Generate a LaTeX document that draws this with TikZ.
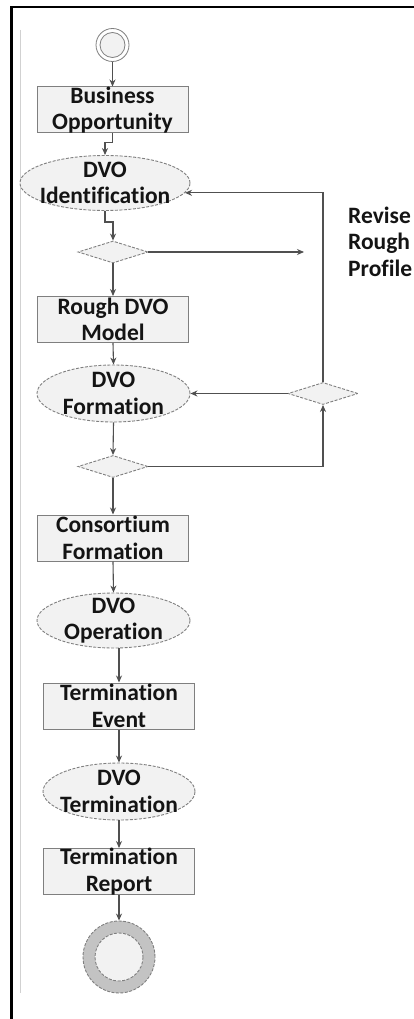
\documentclass[tikz,border=0pt]{standalone}
\usepackage{fontspec}
\setmainfont{Carlito}[Ligatures={NoCommon}]
\usetikzlibrary{shapes.geometric,arrows.meta,calc}
\definecolor{edgec}{HTML}{7F7F7F}
\definecolor{arrc}{HTML}{505050}
\definecolor{fillc}{HTML}{F2F2F2}
\definecolor{ringc}{HTML}{C3C3C3}
\begin{document}
\begin{tikzpicture}[x=1pt,y=-1pt,
  box/.style={rectangle, draw=edgec, line width=1pt, fill=fillc, minimum width=151pt, minimum height=46pt, inner sep=0pt},
  ell/.style={ellipse, draw=edgec, dash pattern=on 3pt off 1.5pt, line width=0.9pt, fill=fillc, inner sep=0pt},
  dia/.style={diamond, draw=edgec, dash pattern=on 3pt off 1.5pt, line width=0.9pt, fill=fillc, minimum width=70pt, minimum height=22pt, inner sep=0pt},
  txt/.style={font=\fontsize{23.5}{26.5}\selectfont\bfseries, align=center, inner sep=0pt, text=black!92},
  conn/.style={draw=arrc, line width=1.1pt, -{Stealth[length=7pt,width=6pt]}}]
\useasboundingbox (0,0) rectangle (414,1019);
\clip (0,0) rectangle (414,1019);
\fill[white] (0,0) rectangle (414,1019);
% frame
\draw[line width=2.5pt, black] (11.5,1030) -- (11.5,7.2) -- (430,7.2);
\draw[black!18, line width=1pt] (20,30) -- (20,993);
% start
\node[circle, draw=edgec, line width=0.8pt, fill=white, minimum size=33pt, inner sep=0pt] (st) at (112.5,45) {};
\draw[edgec, line width=0.8pt, fill=fillc] (st.center) circle (12.5);
% nodes
\node[box, label={[txt]center:Business\\Opportunity}] (bo) at (112.5,110) {};
\node[ell, minimum width=170pt, minimum height=55pt, label={[txt]center:DVO\\Identification}] (di) at (105,183) {};
\node[dia] (d1) at (113,252) {};
\node[box, label={[txt]center:Rough DVO\\Model}] (rm) at (113,319.5) {};
\node[ell, minimum width=153pt, minimum height=57pt, label={[txt]center:DVO\\Formation}] (df) at (113.5,393.5) {};
\node[dia] (d2) at (323,393.5) {};
\node[dia] (d3) at (113,466.5) {};
\node[box, label={[txt]center:Consortium\\Formation}] (cf) at (113,538) {};
\node[ell, minimum width=153pt, minimum height=55pt, label={[txt]center:DVO\\Operation}] (dop) at (113.5,620.5) {};
\node[box, label={[txt]center:Termination\\Event}] (te) at (119,706) {};
\node[ell, minimum width=152pt, minimum height=57pt, label={[txt]center:DVO\\Termination}] (dt) at (119,791.5) {};
\node[box, label={[txt]center:Termination\\Report}] (tr) at (119,871.5) {};
\node[circle, draw=edgec, dash pattern=on 3pt off 1.5pt, line width=0.9pt, fill=ringc, minimum size=72pt, inner sep=0pt] (en) at (119,957) {};
\draw[edgec, dash pattern=on 3pt off 1.5pt, line width=0.9pt, fill=fillc] (en.center) circle (24);
\node[txt, align=left, anchor=north west] (rv) at (348,206.5) {Revise\\Rough\\Profile};
\coordinate (rvend) at (304,252);
% connectors
\draw[conn] (st.south -| bo.north) -- (bo.north);
\draw[conn] (bo.south) -- ++(0,9) -| (di.north);
\draw[conn] (di.south) -- ++(0,11) -| (d1.north);
\draw[conn] (d1.east) -- (rvend);
\draw[conn] (d1.south) -- (rm.north);
\draw[conn] (rm.south) -- (df.north);
\draw[conn] (d2.west) -- (df.east);
\draw[conn] (d2.north) |- (di.-7.2);
\draw[conn] (df.south) -- (d3.north);
\draw[conn] (d3.east) -| (d2.south);
\draw[conn] (d3.south) -- (cf.north);
\draw[conn] (cf.south) -- (dop.north);
\draw[conn] (dop.south -| te.north) -- (te.north);
\draw[conn] (te.south) -- (dt.north);
\draw[conn] (dt.south) -- (tr.north);
\draw[conn] (tr.south) -- (en.north);
\end{tikzpicture}
\end{document}
